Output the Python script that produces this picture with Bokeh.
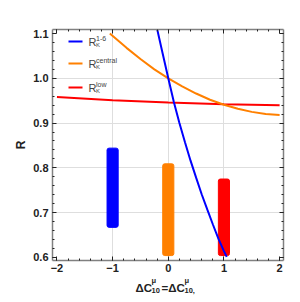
from bokeh.plotting import figure
from bokeh.layouts import column
from bokeh.models import (Range1d, LinearAxis, FixedTicker, Label, BoxAnnotation,
                          CustomJSTickFormatter, NumeralTickFormatter)
from bokeh.embed import file_html
from bokeh.resources import INLINE

# ---- data ----
blue_x = [-0.2, -0.1, 0.0, 0.1, 0.2, 0.3, 0.4, 0.5, 0.6, 0.7, 0.8, 0.9, 1.0, 1.05]
blue_y = [1.11, 1.055, 1.0, 0.947, 0.90, 0.857, 0.816, 0.778, 0.741, 0.707, 0.674, 0.642, 0.614, 0.601]

orange_x = [-1.05, -0.75, -0.5, -0.25, 0.0, 0.25, 0.5, 0.75, 1.0, 1.25, 1.5, 1.75, 2.0]
orange_y = [1.10, 1.068, 1.043, 1.02, 1.0, 0.982, 0.966, 0.952, 0.941, 0.932, 0.925, 0.92, 0.918]

red_x = [-2.0, -1.0, 0.0, 1.0, 2.0]
red_y = [0.958, 0.951, 0.946, 0.942, 0.940]

bar_x = [-1.0, 0.0, 1.0]
bar_bottom = [0.667, 0.604, 0.604]
bar_top = [0.844, 0.809, 0.775]
bar_colors = ["#0000ff", "#ff8000", "#ff0000"]

x_ticks = [-2, -1, 0, 1, 2]
y_ticks = [0.6, 0.7, 0.8, 0.9, 1.0, 1.1]
legend_sups = ["1-6", "central", "low"]

BLUE, ORANGE, RED = "#0000ff", "#ff8000", "#ff0000"
FONT = "Liberation Sans"
W = 292
H_MAIN = 276
H_LAB = 26
MB_TOP, MB_BOTTOM, MB_LEFT, MB_RIGHT = 29, 16, 52, 9

p = figure(width=W, height=H_MAIN, output_backend="svg", toolbar_location=None,
           x_range=Range1d(-2.08, 2.07), y_range=Range1d(0.593, 1.109),
           min_border_left=MB_LEFT, min_border_right=MB_RIGHT,
           min_border_top=MB_TOP, min_border_bottom=MB_BOTTOM,
           x_axis_location=None, y_axis_location=None)
p.outline_line_color = None

# grids
p.xgrid.ticker = FixedTicker(ticks=[-1, 0, 1])
p.ygrid.ticker = FixedTicker(ticks=[0.7, 0.8, 0.9, 1.0])
p.xgrid.grid_line_color = "#dedede"
p.ygrid.grid_line_color = "#dedede"


def style_axis(ax, labels=True):
    ax.axis_line_color = "#808080"
    ax.axis_line_width = 1.5
    ax.major_tick_in = 4
    ax.major_tick_out = 0
    ax.minor_tick_in = 2
    ax.minor_tick_out = 0
    ax.major_tick_line_color = "#222222"
    ax.minor_tick_line_color = "#222222"
    if labels:
        ax.major_label_text_font = FONT
        ax.major_label_text_font_style = "bold"
        ax.major_label_text_font_size = "11px"
        ax.major_label_text_color = "#222222"
    else:
        ax.formatter = CustomJSTickFormatter(code="return ''")
        ax.major_label_standoff = 0


xt = FixedTicker(ticks=x_ticks, minor_ticks=[i / 5 for i in range(-10, 11)])
yt = FixedTicker(ticks=y_ticks, minor_ticks=[0.58 + i * 0.02 for i in range(0, 28)])

xb = LinearAxis(ticker=xt)
style_axis(xb)
xb.major_label_standoff = 3
xb.major_label_overrides = {-2: "\u22122", -1: "\u22121"}
p.add_layout(xb, "below")

xa = LinearAxis(ticker=xt)
style_axis(xa, labels=False)
p.add_layout(xa, "above")

yl = LinearAxis(ticker=yt, axis_label="R", formatter=NumeralTickFormatter(format="0.0"))
style_axis(yl)
yl.major_label_standoff = 4
yl.axis_label_standoff = 2
yl.axis_label_text_font = FONT
yl.axis_label_text_font_style = "bold"
yl.axis_label_text_font_size = "12px"
yl.axis_label_text_color = "#222222"
p.add_layout(yl, "left")

yr = LinearAxis(ticker=yt)
style_axis(yr, labels=False)
p.add_layout(yr, "right")

# bars
p.vbar(x=bar_x, width=0.2, bottom=bar_bottom, top=bar_top, color=bar_colors,
       line_color=bar_colors, border_radius=2)

# curves
p.line(red_x, red_y, line_color=RED, line_width=2)
p.line(orange_x, orange_y, line_color=ORANGE, line_width=2)
p.line(blue_x, blue_y, line_color=BLUE, line_width=2)

# legend (frame-relative screen units)
FH = H_MAIN - MB_TOP - MB_BOTTOM
for col, sup, dy in zip([BLUE, ORANGE, RED], legend_sups, [12, 34, 58]):
    yc = FH - dy
    p.add_layout(BoxAnnotation(left=16, right=30, bottom=yc - 1, top=yc + 1,
                               left_units="screen", right_units="screen",
                               top_units="screen", bottom_units="screen",
                               fill_color=col, fill_alpha=1, line_color=None))
    p.add_layout(Label(x=36, y=yc, x_units="screen", y_units="screen", text="R",
                       text_font=FONT, text_font_size="11px", text_color="#444444",
                       text_baseline="middle"))
    p.add_layout(Label(x=43.5, y=yc + 3.5, x_units="screen", y_units="screen", text=sup,
                       text_font=FONT, text_font_size="7px", text_color="#444444",
                       text_baseline="middle"))
    p.add_layout(Label(x=43.5, y=yc - 3, x_units="screen", y_units="screen", text="K",
                       text_font=FONT, text_font_size="6px", text_color="#444444",
                       text_baseline="middle"))

# x-axis title strip: ΔC^μ_10 = ΔC^μ_10'
q = figure(width=W, height=H_LAB, output_backend="svg", toolbar_location=None,
           x_range=Range1d(0, W), y_range=Range1d(0, H_LAB), min_border=0,
           x_axis_location=None, y_axis_location=None)
q.outline_line_color = None
q.xgrid.visible = False
q.ygrid.visible = False


def lab(x, y, t, size):
    q.add_layout(Label(x=x, y=y, x_units="screen", y_units="screen", text=t,
                       text_font=FONT, text_font_style="bold", text_font_size=size,
                       text_color="#222222", text_baseline="alphabetic"))


base = 15
lab(83, base, "\u0394C", "11.5px")
lab(99, base + 7, "\u03bc", "7.5px")
lab(99, base - 2.5, "10", "7.5px")
lab(109, base, "=\u0394C", "11.5px")
lab(132, base + 7, "\u03bc", "7.5px")
lab(132, base - 2.5, "10,", "7.5px")

layout = column(p, q, spacing=0)
open("out.html", "w").write(file_html(layout, INLINE))
